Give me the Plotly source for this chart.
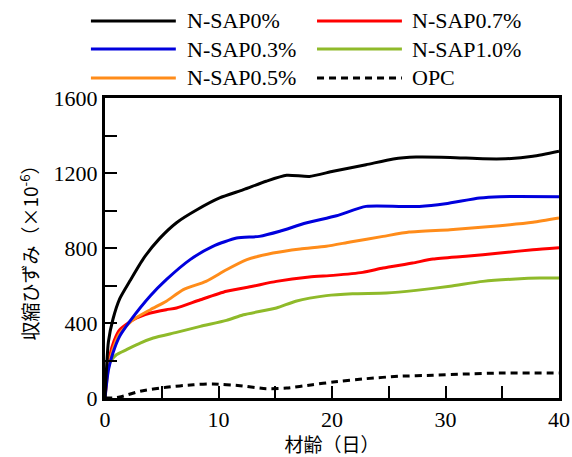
import plotly.graph_objects as go

# ---- data ----
names = ["N-SAP0%", "N-SAP0.3%", "N-SAP0.5%", "N-SAP0.7%", "N-SAP1.0%", "OPC"]
colors = ["#000000", "#0000dd", "#ff8c1a", "#ff0000", "#8fba2a", "#000000"]

x_sap0 = [0, 0.3, 0.7, 1.3, 2.2, 3.4, 4.8, 6.3, 8.1, 10.1, 12.2, 14.2, 16.0, 18.0, 20.1, 23.0, 25.4, 27.4, 30.4, 33.3, 35.3, 37.7, 40]
y_sap0 = [0, 300, 420, 530, 625, 745, 850, 935, 1004, 1067, 1111, 1156, 1188, 1182, 1209, 1244, 1275, 1285, 1283, 1276, 1276, 1289, 1316]

x_sap03 = [0, 0.3, 0.7, 1.3, 2.2, 4.0, 5.4, 7.5, 9.5, 11.6, 13.6, 15.4, 17.7, 20.4, 23.0, 26.0, 27.7, 30.0, 33.0, 34.8, 40]
y_sap03 = [0, 150, 240, 330, 410, 545, 631, 738, 809, 853, 862, 889, 933, 972, 1022, 1022, 1022, 1036, 1067, 1074, 1074]

x_sap05 = [0, 0.3, 0.7, 1.3, 2.5, 4.0, 5.4, 6.9, 8.9, 10.7, 12.5, 14.8, 17.2, 19.5, 21.6, 24.5, 26.8, 30.4, 34.8, 37.7, 40]
y_sap05 = [0, 160, 260, 345, 418, 471, 516, 578, 622, 684, 738, 773, 795, 809, 832, 862, 885, 898, 919, 937, 960]

x_sap07 = [0, 0.2, 0.44, 0.8, 1.3, 2.5, 4.0, 5.4, 6.3, 8.4, 10.7, 13.0, 15.1, 18.0, 20.1, 22.7, 24.5, 27.1, 28.9, 31.8, 34.8, 37.7, 40]
y_sap07 = [0, 140, 230, 305, 364, 418, 453, 471, 480, 524, 569, 596, 622, 645, 654, 670, 693, 720, 741, 756, 773, 791, 802]

x_sap10 = [0, 0.1, 0.29, 0.6, 1.0, 1.9, 3.1, 4.25, 6.3, 8.4, 10.7, 12.2, 15.1, 16.8, 19.5, 21.8, 24.8, 27.4, 30.4, 33.3, 36.2, 38.3, 40]
y_sap10 = [0, 100, 169, 205, 231, 258, 293, 320, 350, 382, 414, 444, 480, 516, 546, 556, 560, 574, 596, 622, 635, 640, 640]

x_opc = [0, 0.7, 1.3, 3.1, 5.4, 7.8, 9.5, 11.9, 14.2, 16.0, 18.3, 20.1, 23.0, 25.9, 28.9, 31.8, 34.8, 40]
y_opc = [0, 0, 5, 36, 57, 71, 75, 66, 50, 53, 71, 85, 103, 116, 121, 128, 133, 133]

xs = [x_sap0, x_sap03, x_sap05, x_sap07, x_sap10, x_opc]
ys = [y_sap0, y_sap03, y_sap05, y_sap07, y_sap10, y_opc]
dashes = ["solid", "solid", "solid", "solid", "solid", "7px,5px"]

x_ticks = [0, 10, 20, 30, 40]
y_ticks = [0, 400, 800, 1200, 1600]

# draw order: keep black on top like the reference
draw_order = [4, 3, 2, 1, 0, 5]

serif = "'Liberation Serif', 'Times New Roman', Times, serif"
cjk = "'Noto Sans CJK JP', sans-serif"

fig = go.Figure()
for i in draw_order:
    fig.add_trace(go.Scatter(
        x=xs[i], y=ys[i], mode="lines", name=names[i],
        line=dict(color=colors[i], width=3, dash=dashes[i], shape="spline", smoothing=0.6),
        showlegend=False,
    ))

# custom legend (2 columns x 3 rows, column-major like the reference)
col_line = [(-0.031, 0.156), (0.467, 0.654)]
col_text = [0.176, 0.672]
row_y = [1.257, 1.163, 1.067]
for k in range(len(names)):
    c, r = divmod(k, 3)
    fig.add_shape(type="line", xref="paper", yref="paper",
                  x0=col_line[c][0], x1=col_line[c][1], y0=row_y[r], y1=row_y[r],
                  line=dict(color=colors[k], width=3, dash=dashes[k]))
    fig.add_annotation(xref="paper", yref="paper", x=col_text[c], y=row_y[r],
                       text=names[k], showarrow=False, xanchor="left", yanchor="middle",
                       font=dict(family=serif, size=22, color="black"))

axis_common = dict(showline=True, linewidth=3, linecolor="black", mirror=True,
                   ticks="inside", ticklen=12, tickwidth=1.5, tickcolor="black",
                   showgrid=False, zeroline=False, automargin=False,
                   tickfont=dict(family=serif, size=22, color="black"))

fig.update_xaxes(range=[0, 40], tickmode="array", tickvals=x_ticks,
                 ticktext=[str(v) for v in x_ticks],
                 minor=dict(dtick=5, ticks="inside", ticklen=12, tickwidth=1.5, tickcolor="black"),
                 title=dict(text="材齢（日）", font=dict(family=cjk, size=19, color="black"), standoff=6),
                 **axis_common)
fig.update_yaxes(range=[0, 1600], tickmode="array", tickvals=y_ticks,
                 ticktext=[str(v) for v in y_ticks],
                 minor=dict(dtick=200, ticks="inside", ticklen=12, tickwidth=1.5, tickcolor="black"),
                 title=dict(text="収縮ひずみ（×10<sup>-6</sup>）", font=dict(family=cjk, size=19, color="black"), standoff=10),
                 **axis_common)

fig.update_layout(
    width=572, height=457,
    margin=dict(l=105, r=13, t=98, b=59),
    paper_bgcolor="white", plot_bgcolor="white",
    font=dict(family=serif),
    showlegend=False,
)

fig.write_html("out.html")
